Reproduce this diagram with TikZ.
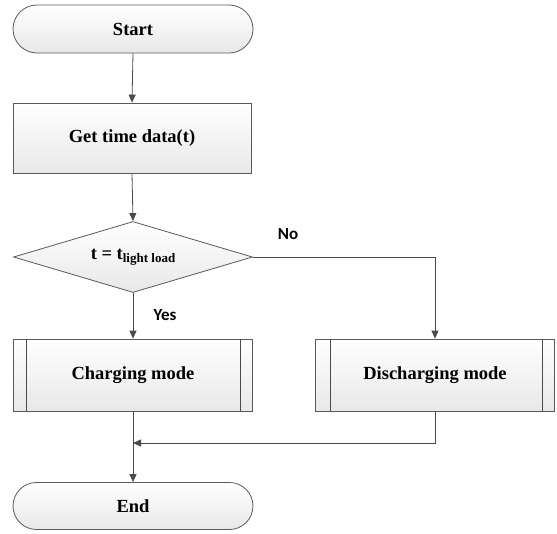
\documentclass[tikz,border=0pt]{standalone}
\usepackage{fontspec}
\setmainfont{Liberation Serif}
\newfontfamily\lblfont{Carlito}
\usetikzlibrary{shapes.geometric,shapes.misc,arrows.meta}
\definecolor{edgec}{HTML}{5A5A5A}
\definecolor{linec}{HTML}{4A4A4A}
\tikzset{
  x=1pt,y=-1pt,
  base/.style={draw=edgec,line width=0.8pt,top color=white,bottom color=gray!18,
    inner sep=0pt,font=\fontsize{18.5}{20}\selectfont\bfseries,text=black},
  term/.style={base,rounded rectangle,minimum width=240pt,minimum height=48pt},
  procbox/.style={base,rectangle,minimum width=238pt,minimum height=70pt},
  predef/.style={base,rectangle,minimum width=239pt,minimum height=72pt},
  decide/.style={base,diamond,shape aspect=3.37,minimum width=239pt,minimum height=71pt},
  conn/.style={draw=linec,line width=0.8pt,-{Triangle[length=8pt,width=7pt]}},
  plain/.style={draw=linec,line width=0.8pt},
  lbl/.style={font=\lblfont\fontsize{17}{19}\selectfont\bfseries,text=black,inner sep=0pt},
}
\begin{document}
\begin{tikzpicture}
\useasboundingbox (0,0) rectangle (557,533);
\node[term] (start) at (133,29) {Start};
\node[procbox] (get) at (132,138) {Get time data(t)};
\node[decide] (dia) at (133,257) {t = t\raisebox{-0.35ex}{\fontsize{13}{14}\selectfont light load}};
\node[predef] (chg) at (133,375) {Charging mode};
\node[predef] (dis) at (435,375) {Discharging mode};
\node[term,minimum height=47pt] (end) at (133,506) {End};
\draw[plain] ([xshift=13pt]chg.north west) -- ([xshift=13pt]chg.south west);
\draw[plain] ([xshift=-13pt]chg.north east) -- ([xshift=-13pt]chg.south east);
\draw[plain] ([xshift=15pt]dis.north west) -- ([xshift=15pt]dis.south west);
\draw[plain] ([xshift=-13pt]dis.north east) -- ([xshift=-13pt]dis.south east);
\coordinate (j) at (133,443);
\draw[conn] (start.south) -- (get.north);
\draw[conn] (get.south) -- (dia.north);
\draw[conn] (dia.south) -- (chg.north);
\draw[conn] (dia.east) -| (dis.north);
\draw[conn] (chg.south) -- (end.north);
\draw[conn] (dis.south) |- (j);
\node[lbl] (no) at (288,234) {No};
\node[lbl] (yes) at (165,315) {Yes};
\end{tikzpicture}
\end{document}
